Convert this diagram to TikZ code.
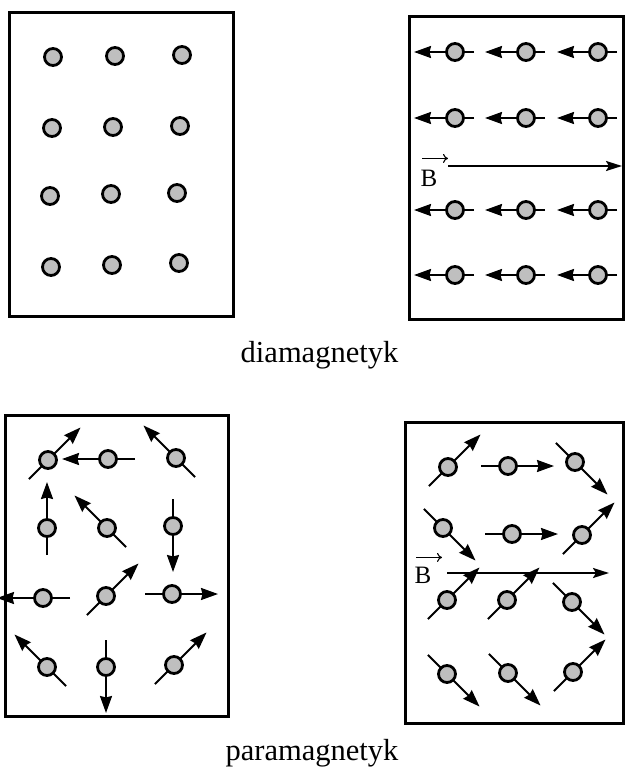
\documentclass[tikz,border=0pt]{standalone}
\usepackage{fontspec}
\setmainfont{Liberation Serif}
\usetikzlibrary{arrows.meta, backgrounds}
\tikzset{%
    >={Stealth[length=17pt,width=12pt,inset=1.5pt]},
    ramka/.style    = {draw=black, line width=3pt},
    atom/.style     = {circle, draw=black, line width=2.8pt, fill=black!25,
                       minimum size=17pt, inner sep=0pt},
    spin/.style     = {->, line width=2pt},
    pole/.style     = {-{Stealth[length=16pt,width=10pt,inset=3pt]}, line width=2.2pt},
    wektor/.style   = {-{To[length=5pt,width=9pt]}, line width=1.1pt},
    napis/.style    = {anchor=base, font=\fontsize{30.5}{36}\selectfont},
    etykieta/.style = {anchor=base, inner sep=0pt, font=\fontsize{25}{25}\selectfont},
}

\begin{document}
\begin{tikzpicture}[x=1pt, y=1pt]
    \useasboundingbox (0,0) rectangle (624,-767);

    % ramki
    \draw[ramka] (9,-13)    rectangle (233,-316);
    \draw[ramka] (409,-17)  rectangle (623,-319);
    \draw[ramka] (5,-415)   rectangle (228,-716);
    \draw[ramka] (405,-422) rectangle (623,-723);

    % diamagnetyk bez pola
    \foreach \x/\y [count=\i] in {53/57, 115/56, 182/55, 52/128, 113/127, 180/126,
                                  50/196, 111/194, 177/193, 51/267, 112/265, 179/263}
        \node[atom] (d\i) at (\x,-\y) {};

    % diamagnetyk w polu B
    \foreach \x/\y [count=\i] in {455/52, 526/52, 598/52, 455/118, 526/118, 598/118,
                                  455/210, 526/210, 598/210, 455/275, 526/275, 598/275} {
        \node[atom] (dB\i) at (\x,-\y) {};
        \begin{scope}[on background layer]
            \draw[spin] ([xshift=19pt]dB\i.center) -- ([xshift=-41pt]dB\i.center);
        \end{scope}
    }
    \node[etykieta] (B1) at (429,-187) {B};
    \draw[wektor] ([xshift=-7pt,yshift=12pt]B1.north) -- ++(26,0);
    \coordinate (pole1a) at (448,-166);
    \coordinate (pole1b) at (622,-166);
    \draw[pole] (pole1a) -- (pole1b);

    \node[napis] (dia) at (319.5,-362) {diamagnetyk};

    % paramagnetyk bez pola
    \foreach \x/\y/\a [count=\i] in {48/460/45, 108/459/180, 176/458/135,
                                     47/528/90, 107/528/135, 173/526/270,
                                     43/598/180, 106/596/45, 172/594/0,
                                     47/667/135, 106/667/270, 174/665/45} {
        \node[atom] (p\i) at (\x,-\y) {};
        \begin{scope}[on background layer]
            \draw[spin] ([shift={(\a+180:27)}]p\i.center) -- ([shift={(\a:46)}]p\i.center);
        \end{scope}
    }

    % paramagnetyk w polu B
    \foreach \x/\y/\a [count=\i] in {448/467/45, 508/466/0, 575/462/-45,
                                     443/528/-45, 512/534/0, 582/535/45,
                                     447/600/45, 507/600/45, 572/602/-45,
                                     447/674/-45, 508/673/-45, 573/672/45} {
        \node[atom] (pB\i) at (\x,-\y) {};
        \begin{scope}[on background layer]
            \draw[spin] ([shift={(\a+180:27)}]pB\i.center) -- ([shift={(\a:46)}]pB\i.center);
        \end{scope}
    }
    \node[etykieta] (B2) at (423,-583) {B};
    \draw[wektor] ([xshift=-7pt,yshift=9pt]B2.north) -- ++(26,0);
    \coordinate (pole2a) at (447,-573);
    \coordinate (pole2b) at (609,-573);
    \draw[pole] (pole2a) -- (pole2b);

    \node[napis] (para) at (312,-760) {paramagnetyk};
\end{tikzpicture}
\end{document}
